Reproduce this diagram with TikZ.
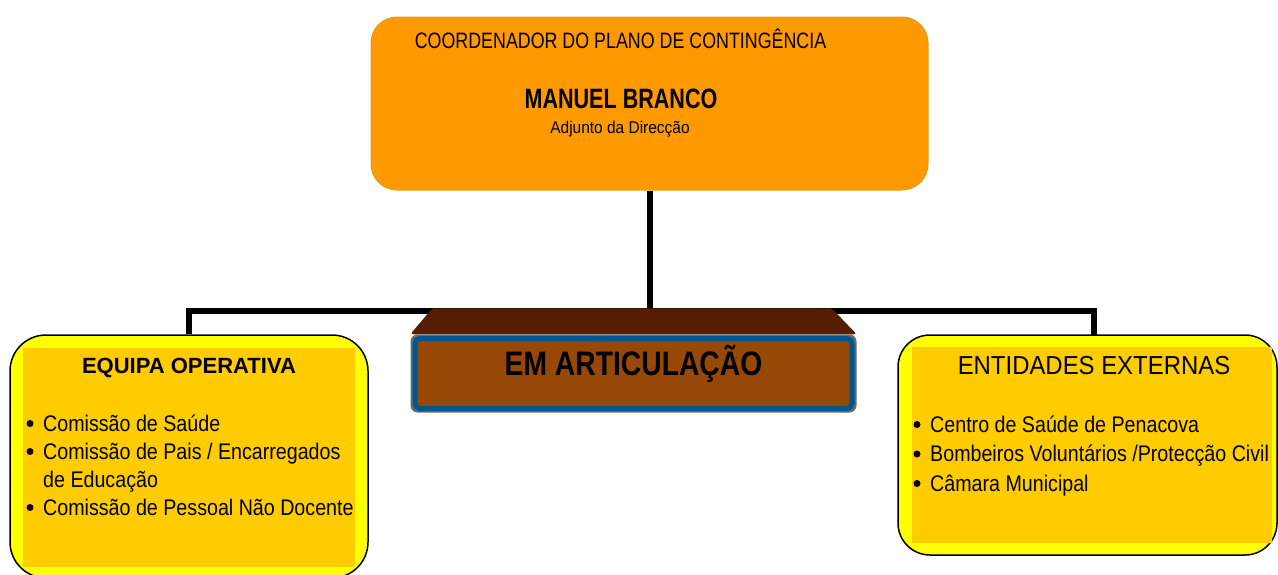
\documentclass[tikz,border=0pt]{standalone}
\usepackage{fontspec}
\setmainfont{Liberation Sans}[FakeStretch=0.87]
\newfontfamily\fcoord{Liberation Sans}[FakeStretch=0.80]
\newfontfamily\fname{Liberation Sans Bold}[FakeStretch=0.77]
\newfontfamily\fequipa{Liberation Sans Bold}
\newfontfamily\fartic{Liberation Sans Bold}[FakeStretch=0.832]
\newfontfamily\fext{Liberation Sans}[FakeStretch=0.92]
\newfontfamily\frole{Liberation Sans}[FakeStretch=0.91]
\usetikzlibrary{backgrounds}
\definecolor{coordfill}{HTML}{FF9900}
\definecolor{coorddraw}{HTML}{D9A21B}
\definecolor{outeryellow}{HTML}{FFFF00}
\definecolor{inneryellow}{HTML}{FFCC00}
\definecolor{bevelbrown}{HTML}{561D00}
\definecolor{frontbrown}{HTML}{974706}
\definecolor{frontblue}{HTML}{00568E}
\definecolor{frontgrey}{HTML}{646A72}
\tikzset{
  conn/.style={line width=6pt, black, line join=miter},
  outerbox/.style={draw=black, line width=1.5pt, fill=outeryellow, rectangle, inner sep=0pt},
  innerbox/.style={fill=inneryellow, rectangle, inner sep=0pt},
  txt/.style={inner sep=0pt, anchor=base, text=black},
  ltxt/.style={inner sep=0pt, anchor=base west, text=black},
  bul/.style={circle, fill=black, inner sep=0pt, minimum size=7pt},
  f22/.style={font=\fontsize{22.6}{26}\selectfont},
}
\begin{document}
\begin{tikzpicture}[x=1pt,y=-1pt]
\useasboundingbox (0,0) rectangle (1278,574);
\clip (0,0) rectangle (1278,574);
% top box
\node[draw=coorddraw, line width=1pt, fill=coordfill, rounded corners=26pt, minimum width=557pt, minimum height=173pt, inner sep=0pt] (coord) at (649.5,103.5) {};
\node[txt, font=\fontsize{22.3}{26}\fcoord] (coordt) at (620.5,48) {COORDENADOR DO PLANO DE CONTINGÊNCIA};
\node[txt, font=\fontsize{28}{32}\fname] (name) at (621,108) {MANUEL BRANCO};
\node[txt, font=\fontsize{17}{20}\frole] (role) at (620,133) {Adjunto da Direcção};
% left box
\node[outerbox, rounded corners=36pt, minimum width=358pt, minimum height=243pt] (equipa) at (189,456.5) {};
\node[innerbox, minimum width=332pt, minimum height=219pt] (equipain) at (189,457.5) {};
\node[txt, font=\fontsize{22}{26}\fequipa] (equipat) at (189,373) {EQUIPA OPERATIVA};
\node[bul] (lb1) at (30,423.5) {};
\node[ltxt, f22] (l1) at (43,431) {Comissão de Saúde};
\node[bul] (lb2) at (30,451.5) {};
\node[ltxt, f22] (l2) at (43,459) {Comissão de Pais / Encarregados};
\node[ltxt, f22] (l3) at (43,487) {de Educação};
\node[bul] (lb4) at (30,507.5) {};
\node[ltxt, f22] (l4) at (43,515) {Comissão de Pessoal Não Docente};
% right box
\node[outerbox, rounded corners=32pt, minimum width=379pt, minimum height=220pt] (ext) at (1087.5,445) {};
\node[innerbox, minimum width=360pt, minimum height=196pt] (extin) at (1092,445) {};
\node[txt, font=\fontsize{26}{30}\fext] (extt) at (1094,374) {ENTIDADES EXTERNAS};
\node[bul] (rb1) at (917,424.5) {};
\node[ltxt, f22] (r1) at (930,432) {Centro de Saúde de Penacova};
\node[bul] (rb2) at (917,454) {};
\node[ltxt, f22] (r2) at (930,461.5) {Bombeiros Voluntários /Protecção Civil};
\node[bul] (rb3) at (917,483.5) {};
\node[ltxt, f22] (r3) at (930,491) {Câmara Municipal};
% middle bevel box
\node[fill=frontgrey, rounded corners=7pt, minimum width=446pt, minimum height=78pt, inner sep=0pt] (articout) at (633.5,373.5) {};
\fill[bevelbrown, rounded corners=3pt] (articout.north west) -- ([xshift=22pt,yshift=26pt]articout.north west) -- ([xshift=-25pt,yshift=26pt]articout.north east) -- (articout.north east) -- cycle;
\node[draw=frontblue, line width=5pt, fill=frontbrown, rounded corners=5pt, minimum width=437pt, minimum height=70pt, inner sep=0pt] (artic) at (633.5,373.5) {};
\node[txt, font=\fontsize{34}{38}\fartic] (artict) at (633.5,375) {EM ARTICULAÇÃO};
% connectors
\coordinate (hub) at (649.5,311);
\coordinate (rstub) at (1094,335);
\begin{scope}[on background layer]
\draw[conn] (coord.south) -- (hub);
\draw[conn] (equipa.north) |- (hub) -| (rstub);
\end{scope}
\end{tikzpicture}
\end{document}
